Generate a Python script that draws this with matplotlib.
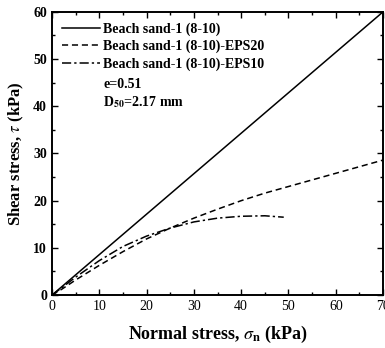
import matplotlib
matplotlib.use("Agg")
import matplotlib.pyplot as plt
from matplotlib.ticker import MultipleLocator

plt.rcParams["font.family"] = "Liberation Serif"
plt.rcParams["mathtext.fontset"] = "stix"

# shear envelope data (normal stress vs shear stress, kPa)
sand_x = [0, 70]
sand_y = [0, 60]

eps20_x = [0, 2, 5, 10, 15, 20, 25, 30, 35, 40, 45, 50, 55, 60, 65, 70]
eps20_y = [0, 1.2, 3.2, 6.3, 9.2, 11.9, 14.2, 16.3, 18.2, 20.0, 21.6, 23.0, 24.4, 25.8, 27.2, 28.6]

eps10_x = [0, 2, 5, 10, 15, 20, 25, 30, 35, 40, 45, 49]
eps10_y = [0, 1.5, 3.8, 7.3, 10.3, 12.5, 14.2, 15.5, 16.3, 16.7, 16.8, 16.5]

labels = ["Beach sand-1 (8-10)", "Beach sand-1 (8-10)-EPS20", "Beach sand-1 (8-10)-EPS10"]

fig = plt.figure(figsize=(3.85, 3.48), dpi=100)
ax = fig.add_axes([0.135, 0.152, 0.86, 0.814])

ax.plot(sand_x, sand_y, color="black", lw=1.1, ls="-", label=labels[0])
ax.plot(eps20_x, eps20_y, color="black", lw=1.1, ls=(0, (4, 2.5)), label=labels[1])
ax.plot(eps10_x, eps10_y, color="black", lw=1.1, ls=(0, (6, 2, 1.5, 2)), label=labels[2])

ax.set_xlim(0, 70)
ax.set_ylim(0, 60)
ax.xaxis.set_major_locator(MultipleLocator(10))
ax.xaxis.set_minor_locator(MultipleLocator(5))
ax.yaxis.set_major_locator(MultipleLocator(10))
ax.yaxis.set_minor_locator(MultipleLocator(5))
ax.tick_params(which="both", direction="in", top=True, right=True, width=1)
ax.tick_params(which="major", length=4, labelsize=10)
ax.tick_params(which="minor", length=2.5)
for lbl in ax.get_yticklabels():
    lbl.set_fontweight("bold")
for sp in ax.spines.values():
    sp.set_linewidth(1.4)

ax.set_xlabel(r"Normal stress, $\sigma_{\mathbf{n}}$ (kPa)", fontsize=13, fontweight="bold", labelpad=8)
ax.set_ylabel(r"Shear stress, $\tau$ (kPa)", fontsize=12, fontweight="bold", labelpad=5)

leg = ax.legend(loc="upper left", frameon=False, prop={"weight": "bold", "size": 10},
                handlelength=2.7, handletextpad=0.25, borderaxespad=0.45,
                borderpad=0.3, labelspacing=0.3)

ax.text(0.155, 0.745, "e=0.51", transform=ax.transAxes, fontsize=10, fontweight="bold",
        va="center")
ax.text(0.155, 0.68, r"D$_{\mathbf{50}}$=2.17 mm", transform=ax.transAxes, fontsize=10,
        fontweight="bold", va="center")

fig.savefig("out.png", dpi=100)
